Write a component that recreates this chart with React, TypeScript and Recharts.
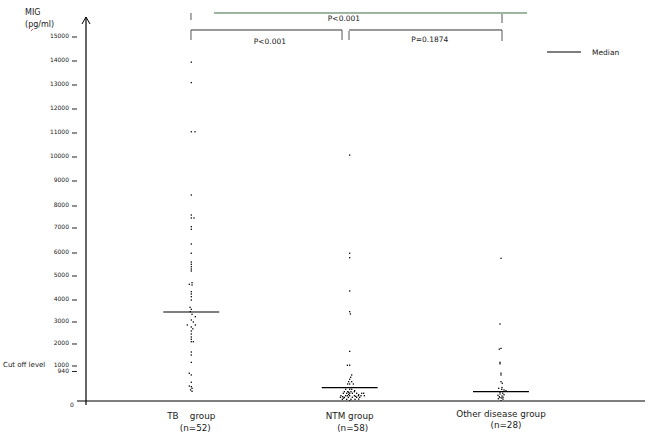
import React from 'react';
import { ScatterChart, Scatter, XAxis, YAxis, ReferenceLine, ReferenceDot, Legend } from 'recharts';

const FONT = "'DejaVu Sans', Verdana, sans-serif";

// ---------- categories / labels ----------
const groupLabels = ['TB    group', 'NTM group', 'Other disease group'];
const groupCounts = ['(n=52)', '(n=58)', '(n=28)'];
const groupCenters = [18.84, 47.17, 74.24];
const medians = [3455, 424, 297];

// ---------- y axis tick labels ----------
const yTicks = [0, 940, 1000, 2000, 3000, 4000, 5000, 6000, 7000, 8000, 9000, 10000, 11000, 12000, 13000, 14000, 15000];

// ---------- MIG values (pg/ml) ----------
const tbValues = [13950, 13100, 11050, 11050, 8440, 7590, 7455, 7455, 7060, 6948, 6360, 5990, 5609, 5509, 5404, 5304, 5217, 4654, 4721, 4625, 4346, 4250, 4137, 4000, 3668, 3577, 3470, 3350, 3241, 3091, 3000, 2864, 2864, 2773, 2690, 2591, 2455, 2318, 2214, 2105, 2105, 1635, 1500, 1165, 884, 830, 597, 478, 456, 405, 351, 310];
const tbJitter = [0, 0, 0, 0.66, 0, 0, 0, 0.48, 0, 0, 0, 0, 0, 0, 0, 0, 0, -0.36, 0.13, 0.13, 0, 0, 0, 0, -0.23, 0, -0.18, 0.13, 0.72, 0, 0.36, -0.72, 0.72, 0, 0.27, 0, 0, 0, 0, 0, 0.36, 0, 0, 0, -0.36, 0, 0, -0.36, 0, 0.13, -0.13, 0.13];

const ntmValues = [10080, 5987, 5796, 4375, 3468, 3364, 1665, 1035, 1035, 829, 756, 693, 616, 616, 542, 542, 542, 373, 373, 373, 297, 297, 297, 297, 246, 246, 246, 246, 246, 246, 246, 169, 169, 169, 169, 169, 169, 169, 169, 118, 118, 118, 118, 118, 118, 54, 54, 54, 54, 5, 210, 150, 90, 330, 280, 200, 135, 60];
const ntmJitter = [0, 0, 0, 0, 0, 0.13, 0, -0.41, 0, 0.36, 0.18, 0, -0.18, 0.36, -0.36, 0, 0.66, -0.72, 0, 0.36, -0.95, -0.36, 0.23, 0.84, -1.13, -0.54, 0, 0.48, 1.25, 2.15, 2.5, -1.56, -0.72, -0.41, 0, 0.84, 1.56, 2.02, 2.63, -1.66, -0.95, -0.23, 0.48, 1.25, 1.79, -1.31, -0.54, 0.23, 0.95, 0, -0.18, 1.07, -1.07, 0.89, -0.18, 1.61, -1.25, 1.61];

const otherValues = [5770, 2909, 1765, 1800, 1165, 1100, 884, 829, 616, 565, 405, 373, 351, 329, 246, 223, 160, 137, 96, 73, 5, 200, 180, 120, 110, 60, 280, 430];
const otherJitter = [0, -0.18, -0.3, 0, -0.18, -0.18, 0, 0, 0, 0.23, -0.41, 0.13, 0.54, 0.89, 0.3, -0.18, 0.18, -0.3, 0.13, -0.48, 0, 0.54, -0.54, 0.36, -0.18, 0.36, -0.18, 0.18];

// ---------- significance annotations ----------
const bracketSegments = [
  { x1: 22.9, y1: 16000, x2: 78.89, y2: 16000, color: '#3d6b40' },
  { x1: 18.78, y1: 16000, x2: 18.78, y2: 15708, color: '#555' },
  { x1: 74.42, y1: 15958, x2: 74.42, y2: 15583, color: '#555' },
  { x1: 18.78, y1: 15292, x2: 45.8, y2: 15292, color: '#333' },
  { x1: 18.78, y1: 15292, x2: 18.78, y2: 14875, color: '#555' },
  { x1: 45.8, y1: 15292, x2: 45.8, y2: 14875, color: '#555' },
  { x1: 47.05, y1: 15292, x2: 74.42, y2: 15292, color: '#333' },
  { x1: 47.05, y1: 15250, x2: 47.05, y2: 14875, color: '#555' },
  { x1: 74.42, y1: 15292, x2: 74.42, y2: 14833, color: '#555' },
];
const pLabels = [
  { text: 'P<0.001', x: 46.15, y: 15750 },
  { text: 'P<0.001', x: 32.9, y: 14792 },
  { text: 'P=0.1874', x: 61.5, y: 14875 },
];

// ---------- hand-drawn y axis calibration (value -> height above zero) ----------
const axisCalibValues = yTicks;
const axisCalibHeights = [0, 29.5, 35, 57, 79, 101, 125, 148, 173, 195, 220, 244, 268, 292, 316, 340, 364];

function calibHeight(v: number) {
  const V = axisCalibValues, H = axisCalibHeights, n = V.length;
  let i = 0;
  if (v <= V[0]) i = 0;
  else if (v >= V[n - 1]) i = n - 2;
  else { while (i < n - 2 && v > V[i + 1]) i++; }
  return H[i] + ((v - V[i]) * (H[i + 1] - H[i])) / (V[i + 1] - V[i]);
}

function handDrawnScale(): any {
  let dom = [0, 1];
  let rng = [0, 1];
  const s: any = (v: any) => {
    const h0 = calibHeight(dom[0]);
    const h1 = calibHeight(dom[1]);
    const t = (calibHeight(Number(v)) - h0) / (h1 - h0);
    return rng[0] + t * (rng[1] - rng[0]);
  };
  s.domain = (d?: any[]) => {
    if (d === undefined) return dom.slice();
    dom = [Number(d[0]), Number(d[d.length - 1])];
    return s;
  };
  s.range = (r?: any[]) => {
    if (r === undefined) return rng.slice();
    rng = [Number(r[0]), Number(r[r.length - 1])];
    return s;
  };
  s.copy = () => handDrawnScale().domain(dom).range(rng);
  s.ticks = () => axisCalibValues.slice();
  s.tickFormat = () => (v: any) => String(v);
  return s;
}
const yScale = handDrawnScale();

const build = (vals: number[], jit: number[], c: number) => vals.map((v, i) => ({ x: c + (jit[i] || 0), y: v }));
const tbData = build(tbValues, tbJitter, groupCenters[0]);
const ntmData = build(ntmValues, ntmJitter, groupCenters[1]);
const otherData = build(otherValues, otherJitter, groupCenters[2]);

const labelDy = [14.5, 14.5, 13];
const countDy = [27, 27, 24];
const countDx = [4, 3, 5];

const XTick = (props: any) => {
  const { x, y, payload } = props;
  const i = groupCenters.indexOf(payload.value);
  if (i < 0) return null;
  return (
    <g fontFamily={FONT} fill="#1a1a1a">
      <text x={x} y={y + labelDy[i]} textAnchor="middle" dominantBaseline="central" fontSize={8.8} style={{ whiteSpace: 'pre' }}>
        {groupLabels[i]}
      </text>
      <text x={x + countDx[i]} y={y + countDy[i]} textAnchor="middle" dominantBaseline="central" fontSize={8.8}>
        {groupCounts[i]}
      </text>
    </g>
  );
};

const YTick = (props: any) => {
  const { x, y, payload } = props;
  const v = payload.value;
  if (v === 0) {
    return (
      <text x={x - 14} y={y + 3} textAnchor="middle" dominantBaseline="central" fontSize={6} fontFamily={FONT} fill="#1a1a1a">0</text>
    );
  }
  return (
    <g>
      <line x1={x - 14} x2={x - 9} y1={y} y2={y} stroke="#222" strokeWidth={1} />
      <text x={x - 17} y={y - 1} textAnchor="end" dominantBaseline="central" fontSize={6} fontFamily={FONT} fill="#1a1a1a">{v}</text>
      {v === 940 && (
        <text x={x - 83} y={y - 6.5} textAnchor="start" dominantBaseline="central" fontSize={7} fontFamily={FONT} fill="#1a1a1a">Cut off level</text>
      )}
    </g>
  );
};

const dotShape = (p: any) => <rect x={p.cx - 0.65} y={p.cy - 0.65} width={1.3} height={1.3} fill="#000" />;

const LegendContent = () => (
  <svg width={90} height={12} style={{ display: 'block' }}>
    <line x1={0} x2={34} y1={6} y2={6} stroke="#000" strokeWidth={1.2} />
    <text x={45} y={6} dominantBaseline="central" fontSize={7.5} fontFamily={FONT} fill="#1a1a1a">Median</text>
  </svg>
);

export default function App() {
  return (
    <div style={{ position: 'absolute', left: 0, top: 0, width: 660, height: 438, background: '#fff' }}>
      <ScatterChart width={660} height={438} margin={{ top: 5, right: 15, bottom: 0, left: 0 }}>
        <XAxis type="number" dataKey="x" domain={[0, 100]} ticks={groupCenters} tick={<XTick />} tickLine={false} axisLine={false} interval={0} height={37} tickSize={0} tickMargin={0} allowDataOverflow />
        <YAxis type="number" dataKey="y" domain={[0, 16333]} scale={yScale} ticks={yTicks} tick={<YTick />} tickLine={false} axisLine={false} interval={0} width={86} tickSize={0} tickMargin={0} allowDataOverflow />
        <Legend layout="horizontal" verticalAlign="middle" align="center" wrapperStyle={{ position: 'absolute', left: 547, top: 46, width: 90, height: 12 }} content={<LegendContent />} />
        <ReferenceLine segment={[{ x: 0, y: -130 }, { x: 0, y: 15833 }]} stroke="#000" strokeWidth={1.2} ifOverflow="visible" />
        <ReferenceLine segment={[{ x: -1.6, y: 0 }, { x: 100, y: 0 }]} stroke="#000" strokeWidth={1.2} ifOverflow="visible" />
        <ReferenceDot x={0} y={15833} r={1} ifOverflow="visible" shape={(p: any) => (
          <path d={`M${p.cx - 4},${p.cy + 7} L${p.cx},${p.cy} L${p.cx + 4},${p.cy + 7}`} fill="none" stroke="#000" strokeWidth={1} />
        )} />
        {bracketSegments.map((b, i) => (
          <ReferenceLine key={'b' + i} segment={[{ x: b.x1, y: b.y1 }, { x: b.x2, y: b.y2 }]} stroke={b.color} strokeWidth={1} ifOverflow="visible" />
        ))}
        {pLabels.map((l, i) => (
          <ReferenceDot key={'p' + i} x={l.x} y={l.y} r={1} ifOverflow="visible" shape={(p: any) => (
            <text x={p.cx} y={p.cy} textAnchor="middle" dominantBaseline="central" fontSize={7.5} fontFamily={FONT} fill="#1a1a1a">{l.text}</text>
          )} />
        ))}
        {medians.map((m, i) => (
          <ReferenceLine key={'m' + i} segment={[{ x: groupCenters[i] - 5, y: m }, { x: groupCenters[i] + 5, y: m }]} stroke="#000" strokeWidth={1.2} ifOverflow="visible" />
        ))}
        <Scatter name="TB group" data={tbData} shape={dotShape} isAnimationActive={false} />
        <Scatter name="NTM group" data={ntmData} shape={dotShape} isAnimationActive={false} />
        <Scatter name="Other disease group" data={otherData} shape={dotShape} isAnimationActive={false} />
      </ScatterChart>
      <div style={{ position: 'absolute', left: 25, top: 7, fontFamily: FONT, fontSize: 8, lineHeight: '12px', color: '#1a1a1a' }}>
        MIG<br />(<span style={{ textDecorationLine: 'underline', textDecorationStyle: 'wavy', textDecorationColor: '#e02020', textDecorationThickness: '1px' }}>pg</span>/ml)
      </div>
    </div>
  );
}
